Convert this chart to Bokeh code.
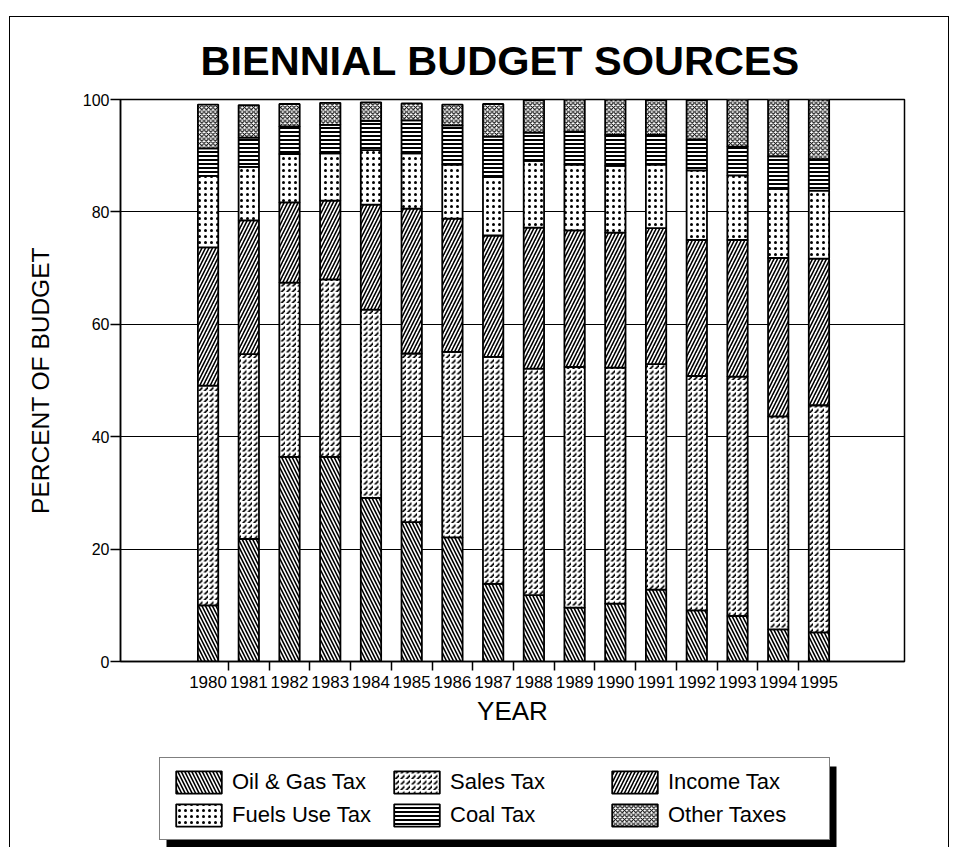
from bokeh.plotting import figure
from bokeh.layouts import column
from bokeh.models import (ColumnDataSource, Range1d, FixedTicker, Legend, LegendItem,
                          BoxAnnotation)
from bokeh.embed import file_html
from bokeh.resources import INLINE

years = list(range(1980, 1996))
oil_gas = [10.0, 21.8, 36.4, 36.4, 29.1, 24.8, 22.1, 13.8, 11.8, 9.6, 10.3, 12.8, 9.1, 8.1, 5.7, 5.2]
sales = [39.1, 32.9, 31.0, 31.6, 33.5, 30.0, 33.0, 40.4, 40.3, 42.8, 42.0, 40.1, 41.7, 42.6, 37.9, 40.4]
income = [24.6, 23.8, 14.3, 14.0, 18.7, 25.8, 23.7, 21.6, 25.1, 24.3, 24.0, 24.2, 24.2, 24.3, 28.2, 26.1]
fuels_use = [12.7, 9.5, 8.6, 8.4, 9.7, 9.8, 9.6, 10.4, 11.9, 11.7, 11.9, 11.3, 12.4, 11.5, 12.3, 12.1]
coal = [4.9, 5.2, 4.9, 5.1, 5.2, 5.9, 7.0, 7.2, 5.0, 5.9, 5.5, 5.3, 5.5, 5.1, 5.8, 5.6]
other = [7.8, 5.8, 4.0, 3.9, 3.3, 3.0, 3.7, 5.8, 5.8, 5.9, 6.4, 6.2, 7.0, 8.6, 10.4, 11.1]

series_keys = ["oil_gas", "sales", "income", "fuels_use", "coal", "other"]
series_labels = ["Oil & Gas Tax", "Sales Tax", "Income Tax",
                 "Fuels Use Tax", "Coal Tax", "Other Taxes"]
y_ticks = [0, 20, 40, 60, 80, 100]

FONT = "Liberation Sans"

patterns = ["\\", ",", "/", ".", "-", "x"]
scales = [7, 5.5, 7, 6, 4, 4.5]
weights = [1.6, 1.8, 1.6, 1.2, 2.0, 1.1]

src = ColumnDataSource(dict(year=years, oil_gas=oil_gas, sales=sales, income=income,
                            fuels_use=fuels_use, coal=coal, other=other))

p = figure(width=938, height=740, output_backend="svg", toolbar_location=None,
           x_range=Range1d(1977.85, 1997.1), y_range=Range1d(0, 100),
           min_border_left=110, min_border_right=44, min_border_top=82,
           min_border_bottom=96)

rs = p.vbar_stack(series_keys, x="year", width=0.5, source=src,
                  fill_color="white", line_color="black", line_width=1.8,
                  hatch_pattern=patterns, hatch_scale=scales, hatch_weight=weights,
                  hatch_color="black")

# title
p.title.text = "BIENNIAL BUDGET SOURCES"
p.title.align = "left"
p.title.offset = 80
p.title.text_font = FONT
p.title.text_font_size = "41.5px"
p.title.text_font_style = "bold"
p.title.text_color = "black"
p.title.standoff = 31

# axes
mids = [y + 0.5 for y in years[:-1]]
xa = p.xaxis[0]
xa.ticker = FixedTicker(ticks=years, minor_ticks=mids)
xa.major_tick_out = 0
xa.major_tick_in = 0
xa.minor_tick_out = 9
xa.minor_tick_in = 0
xa.minor_tick_line_color = "black"
xa.minor_tick_line_width = 1.5
xa.axis_line_width = 1.5
xa.axis_line_color = "black"
xa.major_label_text_font = FONT
xa.major_label_text_font_size = "17px"
xa.major_label_text_color = "black"
xa.major_label_standoff = 5
xa.axis_label = "YEAR"
xa.axis_label_text_font = FONT
xa.axis_label_text_font_size = "26px"
xa.axis_label_text_font_style = "normal"
xa.axis_label_text_color = "black"
xa.axis_label_standoff = 5

ya = p.yaxis[0]
ya.ticker = FixedTicker(ticks=y_ticks)
ya.major_tick_out = 10
ya.major_tick_in = 0
ya.minor_tick_out = 0
ya.minor_tick_in = 0
ya.major_tick_line_width = 1.5
ya.axis_line_width = 1.5
ya.axis_line_color = "black"
ya.major_label_text_font = FONT
ya.major_label_text_font_size = "16px"
ya.major_label_text_color = "black"
ya.major_label_standoff = 1
ya.axis_label = "PERCENT OF BUDGET"
ya.axis_label_text_font = FONT
ya.axis_label_text_font_size = "24.5px"
ya.axis_label_text_font_style = "normal"
ya.axis_label_text_color = "black"
ya.axis_label_standoff = 26

p.xgrid.visible = False
p.ygrid.grid_line_color = "black"
p.ygrid.grid_line_width = 1.2
p.outline_line_color = "black"
p.outline_line_width = 1.5
p.background_fill_color = "white"
p.border_fill_color = "white"

# legend panel: a second figure below the chart (frame aligned with the chart's)
lf = figure(width=938, height=90, output_backend="svg", toolbar_location=None,
            x_range=Range1d(0, 1), y_range=Range1d(0, 1),
            x_axis_type=None, y_axis_type=None,
            min_border_left=110, min_border_right=44, min_border_top=0, min_border_bottom=0)
lf.outline_line_color = None
lf.background_fill_color = "white"
lf.border_fill_color = "white"
dummy = [lf.vbar(x=[0.5], top=[0], bottom=[0], width=0.0, fill_color="white",
                 line_color="black", line_width=1.8, hatch_pattern=pat, hatch_scale=sc,
                 hatch_weight=wt, hatch_color="black")
         for pat, sc, wt in zip(patterns, scales, weights)]

# drop shadow behind the legend box
shadow = BoxAnnotation(left=156, right=826, top=9, bottom=90,
                       left_units="canvas", right_units="canvas",
                       top_units="canvas", bottom_units="canvas",
                       fill_color="black", fill_alpha=1, line_alpha=0)
lf.add_layout(shadow)

items = [LegendItem(label=lab, renderers=[r]) for lab, r in zip(series_labels, dummy)]
legend = Legend(items=items, location=(39, 7), orientation="horizontal", ncols=3,
                glyph_width=57, glyph_height=28, label_standoff=5,
                label_width=151, label_height=28, spacing=5, padding=10, margin=0,
                label_text_font=FONT, label_text_font_size="22px",
                label_text_color="black", border_line_color="black",
                border_line_width=1.5,
                background_fill_color="white", background_fill_alpha=1)
lf.add_layout(legend, "center")

page = column(p, lf, styles={"margin-left": "9px", "margin-top": "16px",
                             "border-top": "1.5px solid black",
                             "border-left": "1.5px solid black",
                             "border-right": "1.5px solid black"})

open("out.html", "w").write(file_html(page, INLINE))
